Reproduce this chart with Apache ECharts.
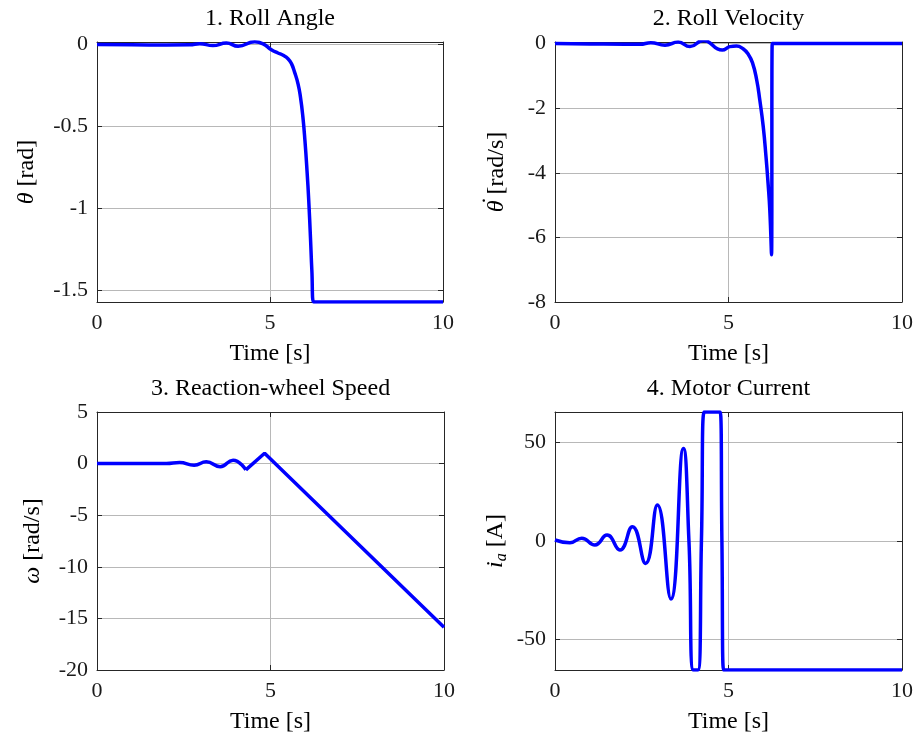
<!DOCTYPE html>
<html>
<head>
<meta charset="utf-8">
<script src="https://cdn.jsdelivr.net/npm/echarts@6/dist/echarts.min.js"></script>
<style>html,body{margin:0;padding:0;background:#fff}#c{width:917px;height:740px}</style>
</head>
<body>
<div id="c"></div>
<script>
// ---- data ----
const titles = ['1. Roll Angle', '2. Roll Velocity', '3. Reaction-wheel Speed', '4. Motor Current'];
const xTicks = [0, 5, 10];

// 1. Roll angle [rad]
const rollAngleT = [0, 1.0, 2.0, 2.68, 2.97, 3.35, 3.74, 4.08, 4.56, 4.80, 5.04, 5.23, 5.38, 5.52, 5.62, 5.71, 5.81, 5.88, 5.95, 6.01, 6.07, 6.12, 6.17, 6.21, 6.26, 10];
const rollAngleV = [0, -0.001, -0.002, -0.001, 0.006, -0.006, 0.01, -0.01, 0.017, 0.005, -0.031, -0.051, -0.065, -0.086, -0.116, -0.168, -0.239, -0.32, -0.44, -0.586, -0.77, -0.953, -1.18, -1.38, -1.5708, -1.5708];
const rollAngleTicks = [-1.5, -1, -0.5, 0];

// 2. Roll velocity [rad/s]
const rollVelT = [0, 1.0, 2.0, 2.45, 2.76, 3.17, 3.55, 3.89, 4.27, 4.82, 5.04, 5.23, 5.42, 5.57, 5.69, 5.81, 5.90, 6.0, 6.08, 6.14, 6.19, 6.24, 6.26, 10];
const rollVelV = [0, -0.01, -0.02, -0.02, 0.03, -0.05, 0.05, -0.09, 0.1, -0.2, -0.094, -0.074, -0.16, -0.33, -0.59, -1.11, -1.73, -2.56, -3.49, -4.32, -5.15, -6.54, 0, 0];
const rollVelTicks = [-8, -6, -4, -2, 0];

// 3. Reaction-wheel speed [rad/s]
const wheelT = [0, 1.0, 2.0, 2.38, 2.8, 3.15, 3.55, 3.92, 4.29];
const wheelV = [0, 0, 0, 0.1, -0.15, 0.17, -0.3, 0.33, -0.61];
const wheelRampT = [4.29, 4.83, 10];
const wheelRampV = [-0.61, 1.0, -15.85];
const wheelTicks = [-20, -15, -10, -5, 0, 5];

// 4. Motor current [A]
const currT = [0, 0.43, 0.77, 1.15, 1.5, 1.87, 2.23, 2.61, 2.95, 3.34, 3.70, 3.86, 3.99, 4.12, 4.22, 4.30, 4.76, 4.81, 4.86, 10];
const currV = [0.5, -0.9, 1.4, -2.0, 3.0, -4.6, 7.3, -11.4, 18.3, -29.5, 47.1, 0, -65.6, -65.6, 0, 65.6, 65.6, 0, -65.6, -65.6];
const currTicks = [-50, 0, 50];

// ---- layout ----
const FONT = 'Liberation Serif';
const grids = [
  {left: 97, top: 42, width: 346, height: 260},
  {left: 555, top: 42, width: 347, height: 260},
  {left: 97, top: 412, width: 347, height: 258},
  {left: 555, top: 412, width: 347, height: 258}
];
const yRanges = [[-1.5708, 0.016], [-8, 0.05], [-20, 5], [-65.6, 65.6]];
const yTicks = [rollAngleTicks, rollVelTicks, wheelTicks, currTicks];
const yNames = ['{i|θ} [rad]', '{i|θ}{dt|˙} [rad/s]', '{i|ω} [rad/s]', '{i|i}{s|a} [A]'];
const yGaps = [58, 42, 52, 45];

const axisLineStyle = {color: '#262626', width: 1};
const gridLineStyle = {color: '#b8b8b8', width: 1};
const labelStyle = {fontFamily: FONT, fontSize: 22, color: '#1a1a1a'};
const nameStyle = {fontFamily: FONT, fontSize: 24, color: '#000',
  rich: {
    i: {fontFamily: FONT, fontSize: 24, fontStyle: 'italic', color: '#000'},
    dt: {fontFamily: FONT, fontSize: 24, color: '#000', width: 0, align: 'right', padding: [0, 0, 9, 0]},
    s: {fontFamily: FONT, fontSize: 16, fontStyle: 'italic', color: '#000', padding: [13, 0, 0, 0]}
  }};

const xAxes = [], yAxes = [];
grids.forEach((g, i) => {
  xAxes.push({
    gridIndex: i, type: 'value', position: 'bottom', min: 0, max: 10,
    axisLine: {show: true, onZero: false, lineStyle: axisLineStyle},
    axisTick: {show: true, inside: true, length: 5, customValues: xTicks, lineStyle: axisLineStyle},
    axisLabel: {show: true, customValues: xTicks, margin: 10, ...labelStyle},
    splitLine: {show: true, lineStyle: gridLineStyle},
    name: 'Time [s]', nameLocation: 'middle', nameGap: 40, nameTextStyle: nameStyle
  });
  xAxes.push({
    gridIndex: i, type: 'value', position: 'top', min: 0, max: 10,
    axisLine: {show: true, onZero: false, lineStyle: axisLineStyle},
    axisTick: {show: true, inside: true, length: 5, customValues: xTicks, lineStyle: axisLineStyle},
    axisLabel: {show: false}, splitLine: {show: false}
  });
  yAxes.push({
    gridIndex: i, type: 'value', position: 'left', min: yRanges[i][0], max: yRanges[i][1],
    axisLine: {show: true, onZero: false, lineStyle: axisLineStyle},
    axisTick: {show: true, inside: true, length: 5, customValues: yTicks[i], lineStyle: axisLineStyle},
    axisLabel: {show: true, customValues: yTicks[i], margin: 9, ...labelStyle},
    splitLine: {show: true, lineStyle: gridLineStyle},
    name: yNames[i], nameLocation: 'middle', nameRotate: 90, nameGap: yGaps[i], nameTextStyle: nameStyle
  });
  yAxes.push({
    gridIndex: i, type: 'value', position: 'right', min: yRanges[i][0], max: yRanges[i][1],
    axisLine: {show: true, onZero: false, lineStyle: axisLineStyle},
    axisTick: {show: true, inside: true, length: 5, customValues: yTicks[i], lineStyle: axisLineStyle},
    axisLabel: {show: false}, splitLine: {show: false}
  });
});

const pairs = (t, v) => t.map((x, k) => [x, v[k]]);
const lineSeries = (i, t, v, smooth) => ({
  type: 'line', xAxisIndex: 2 * i, yAxisIndex: 2 * i, data: pairs(t, v),
  showSymbol: false, smooth: smooth, animation: false,
  lineStyle: {color: '#0000ff', width: 3.5}, itemStyle: {color: '#0000ff'}
});

const series = [
  lineSeries(0, rollAngleT, rollAngleV, 0.5),
  lineSeries(1, rollVelT, rollVelV, 0.5),
  lineSeries(2, wheelT, wheelV, 0.5),
  lineSeries(2, wheelRampT, wheelRampV, false),
  lineSeries(3, currT, currV, 0.5)
];

const titleY = [19, 19, 389, 389];
const graphic = grids.map((g, i) => ({
  type: 'text', x: g.left + g.width / 2, y: titleY[i],
  style: {text: titles[i], font: '24px "' + FONT + '"', fill: '#000',
          textAlign: 'center', textVerticalAlign: 'middle', align: 'center', verticalAlign: 'middle'}
}));

const chart = echarts.init(document.getElementById('c'), null, {renderer: 'canvas'});
chart.setOption({
  backgroundColor: '#fff',
  animation: false,
  grid: grids.map(g => ({...g, show: false, containLabel: false})),
  xAxis: xAxes, yAxis: yAxes, series: series, graphic: graphic
});
</script>
</body>
</html>
